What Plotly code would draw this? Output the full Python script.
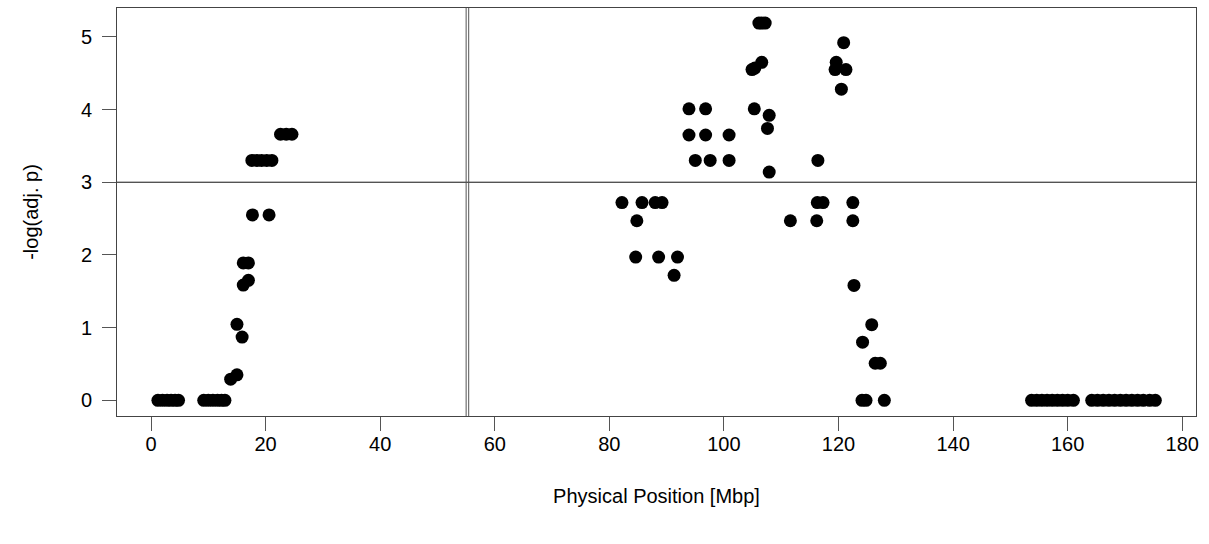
import plotly.graph_objects as go

# Physical position (Mbp) and -log(adj. p) values
pos_left = [1.2, 2.0, 2.8, 3.5, 4.2, 4.8, 9.2, 10.0, 10.8, 11.6, 12.3, 12.9,
            13.9, 15.0, 15.0, 15.9, 16.1, 17.0, 16.1, 17.0, 17.7, 20.6,
            17.6, 18.5, 19.3, 20.2, 21.1, 22.6, 23.6, 24.6]
p_left = [0, 0, 0, 0, 0, 0, 0, 0, 0, 0, 0, 0,
          0.29, 0.35, 1.045, 0.87, 1.585, 1.65, 1.89, 1.89, 2.55, 2.55,
          3.30, 3.30, 3.30, 3.30, 3.30, 3.66, 3.66, 3.66]

pos_mid = [82.2, 85.7, 88.0, 89.2, 84.8, 84.6, 88.6, 91.9, 91.3,
           93.9, 96.8, 93.9, 96.8, 100.9, 95.0, 97.6, 100.9,
           106.1, 106.6, 107.2, 106.6, 104.9, 105.4, 105.3, 107.9, 107.6, 107.9]
p_mid = [2.72, 2.72, 2.72, 2.72, 2.47, 1.97, 1.97, 1.97, 1.72,
         4.01, 4.01, 3.65, 3.65, 3.65, 3.30, 3.30, 3.30,
         5.19, 5.19, 5.19, 4.65, 4.55, 4.57, 4.01, 3.92, 3.74, 3.14]

pos_peak2 = [120.9, 119.6, 119.4, 121.3, 120.5, 116.4, 116.3, 117.3, 122.5,
             111.6, 116.2, 122.5, 122.7, 125.8, 124.2, 126.4, 127.3,
             124.1, 124.8, 128.0]
p_peak2 = [4.92, 4.65, 4.55, 4.55, 4.28, 3.30, 2.72, 2.72, 2.72,
           2.47, 2.47, 2.47, 1.58, 1.04, 0.80, 0.51, 0.51,
           0, 0, 0]

pos_right = [153.7, 154.6, 155.5, 156.4, 157.3, 158.2, 159.1, 160.0, 161.0,
             164.2, 165.2, 166.2, 167.2, 168.2, 169.2, 170.2, 171.2, 172.2,
             173.2, 174.3, 175.3]
p_right = [0] * 21

x_ticks = [0, 20, 40, 60, 80, 100, 120, 140, 160, 180]
y_ticks = [0, 1, 2, 3, 4, 5]
threshold = 3
centromere = [55.0, 55.45]

pos = pos_left + pos_mid + pos_peak2 + pos_right
logp = p_left + p_mid + p_peak2 + p_right

FONT = "Liberation Sans, Arial, sans-serif"

fig = go.Figure()
fig.add_trace(go.Scatter(
    x=pos, y=logp, mode="markers",
    marker=dict(color="black", size=13, line=dict(width=0)),
    showlegend=False, hoverinfo="x+y"))

fig.add_hline(y=threshold, line=dict(color="#111", width=1))
for c in centromere:
    fig.add_vline(x=c, line=dict(color="#555", width=1))

fig.update_layout(
    width=1209, height=544,
    margin=dict(l=117, r=13, t=8, b=128),
    paper_bgcolor="white", plot_bgcolor="white",
    font=dict(family=FONT, size=20, color="black"),
    xaxis=dict(range=[-5.94, 182.4], tickvals=x_ticks, ticks="outside",
               ticklen=14, tickcolor="#555", tickwidth=1,
               ticklabelstandoff=-4,
               showline=True, mirror=True, linecolor="#444", linewidth=1,
               showgrid=False, zeroline=False,
               title=dict(text="Physical Position [Mbp]", standoff=34,
                          font=dict(size=20))),
    yaxis=dict(range=[-0.216, 5.397], tickvals=y_ticks, ticks="outside",
               ticklen=14, tickcolor="#555", tickwidth=1,
               ticklabelstandoff=6,
               showline=True, mirror=True, linecolor="#444", linewidth=1,
               showgrid=False, zeroline=False,
               title=dict(text="-log(adj. p)", standoff=36,
                          font=dict(size=20))),
)

fig.write_html("out.html")
